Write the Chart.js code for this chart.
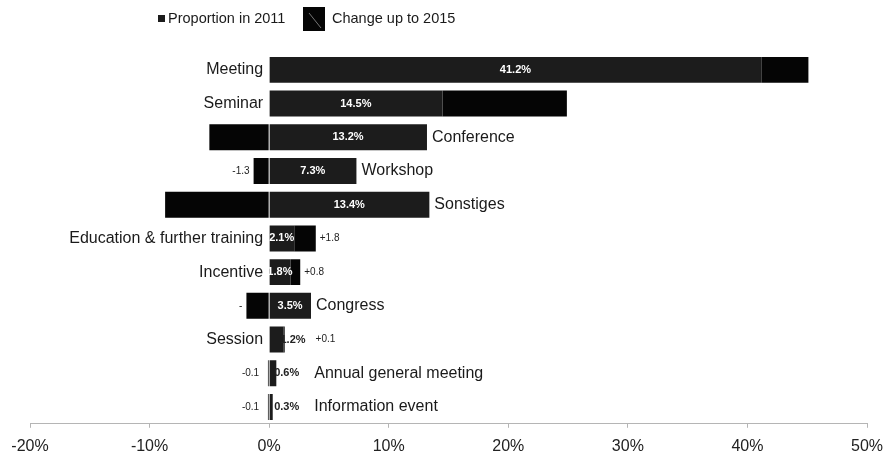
<!DOCTYPE html>
<html>
<head>
<meta charset="utf-8">
<script src="https://cdn.jsdelivr.net/npm/chart.js@4"></script>
<style>
  html, body { margin: 0; padding: 0; background: #fff; }
  #wrap { width: 888px; height: 457px; }
</style>
</head>
<body>
<div id="wrap"><canvas id="eventChart"></canvas></div>
<script>
// event types and their shares (%)
const categories = ['Meeting', 'Seminar', 'Conference', 'Workshop', 'Sonstiges',
  'Education & further training', 'Incentive', 'Congress', 'Session',
  'Annual general meeting', 'Information event'];
const share2011 = [41.2, 14.5, 13.2, 7.3, 13.4, 2.1, 1.8, 3.5, 1.2, 0.6, 0.3];
const change2015 = [3.9, 10.4, -5.0, -1.3, -8.7, 1.8, 0.8, -1.9, 0.1, -0.1, -0.1];
const changeLabels = ['', '', '', '-1.3', '', '+1.8', '+0.8', '-', '+0.1', '-0.1', '-0.1'];
const xTicks = [-20, -10, 0, 10, 20, 30, 40, 50];

const FONT = '"Liberation Sans", Arial, sans-serif';
const SHARE_COLOR = '#1c1c1c';
const CHANGE_COLOR = '#050505';

// draws legend, category names and value labels next to the bars
const labelPlugin = {
  id: 'barLabels',
  afterDraw(chart) {
    const ctx = chart.ctx;
    const x = chart.scales.x;
    const meta = chart.getDatasetMeta(0);
    const x0 = x.getPixelForValue(0);
    ctx.save();
    ctx.textBaseline = 'middle';

    meta.data.forEach((bar, i) => {
      const y = bar.y;
      const share = share2011[i];
      const change = change2015[i];
      const shareEnd = x.getPixelForValue(share);
      const rightMost = x.getPixelForValue(share + Math.max(change, 0));

      // share value
      const txt = share.toFixed(1) + '%';
      ctx.font = 'bold 11px ' + FONT;
      let valueEnd = shareEnd;
      if (share >= 1.5) {
        ctx.fillStyle = '#fff';
        ctx.textAlign = 'center';
        ctx.fillText(txt, (x0 + shareEnd) / 2, y);
      } else {
        ctx.fillStyle = '#222';
        ctx.textAlign = 'left';
        const tx = Math.max(x0 + 5, shareEnd - 3);
        ctx.fillText(txt, tx, y);
        valueEnd = tx + ctx.measureText(txt).width;
      }

      // change value
      const cl = changeLabels[i];
      ctx.font = '10px ' + FONT;
      ctx.fillStyle = '#222';
      if (cl) {
        if (change < 0) {
          ctx.textAlign = 'right';
          ctx.fillText(cl, Math.min(x.getPixelForValue(change) - 4, x0 - 10), y);
        } else {
          ctx.textAlign = 'left';
          ctx.fillText(cl, Math.max(rightMost + 4, valueEnd + 10), y);
        }
      }

      // category name
      ctx.font = '16px ' + FONT;
      ctx.fillStyle = '#1a1a1a';
      if (change > 0) {
        ctx.textAlign = 'right';
        ctx.fillText(categories[i], x0 - 6, y);
      } else {
        ctx.textAlign = 'left';
        const cx = share >= 1.5 ? shareEnd + 5 : valueEnd + 15;
        ctx.fillText(categories[i], cx, y);
      }
    });

    // legend
    ctx.font = '14.5px ' + FONT;
    ctx.fillStyle = SHARE_COLOR;
    ctx.fillRect(158, 15, 7, 7);
    ctx.fillStyle = '#1a1a1a';
    ctx.textAlign = 'left';
    ctx.fillText(chart.data.datasets[0].label, 168, 19);
    ctx.fillStyle = CHANGE_COLOR;
    ctx.fillRect(303, 7, 22, 24);
    ctx.strokeStyle = '#777';
    ctx.lineWidth = 1;
    ctx.beginPath();
    ctx.moveTo(309, 13);
    ctx.lineTo(321, 28);
    ctx.stroke();
    ctx.fillStyle = '#1a1a1a';
    ctx.fillText(chart.data.datasets[1].label, 332, 19);
    ctx.restore();
  }
};

new Chart(document.getElementById('eventChart'), {
  type: 'bar',
  data: {
    labels: categories,
    datasets: [
      { label: 'Proportion in 2011', data: share2011, backgroundColor: SHARE_COLOR,
        barPercentage: 0.77, categoryPercentage: 1 },
      { label: 'Change up to 2015', data: change2015, backgroundColor: CHANGE_COLOR,
        barPercentage: 0.77, categoryPercentage: 1 }
    ]
  },
  options: {
    indexAxis: 'y',
    responsive: true,
    maintainAspectRatio: false,
    animation: false,
    layout: { padding: { top: 53, left: 30, right: 21, bottom: -8 } },
    plugins: { legend: { display: false }, tooltip: { enabled: false } },
    scales: {
      y: { stacked: true, display: false },
      x: {
        stacked: true,
        min: -20,
        max: 50,
        afterBuildTicks(scale) {
          scale.ticks = xTicks.map(v => ({ value: v }));
        },
        // edge labels fit inside the layout padding
        afterFit(scale) {
          scale.paddingLeft = 0;
          scale.paddingRight = 0;
        },
        border: { display: true, color: '#b5b5b5' },
        grid: { drawOnChartArea: false, drawTicks: true, tickLength: 4, color: '#b5b5b5' },
        ticks: {
          padding: 9,
          color: '#222',
          font: { family: FONT, size: 16 },
          callback: v => v + '%'
        }
      }
    }
  },
  plugins: [labelPlugin]
});
</script>
</body>
</html>
